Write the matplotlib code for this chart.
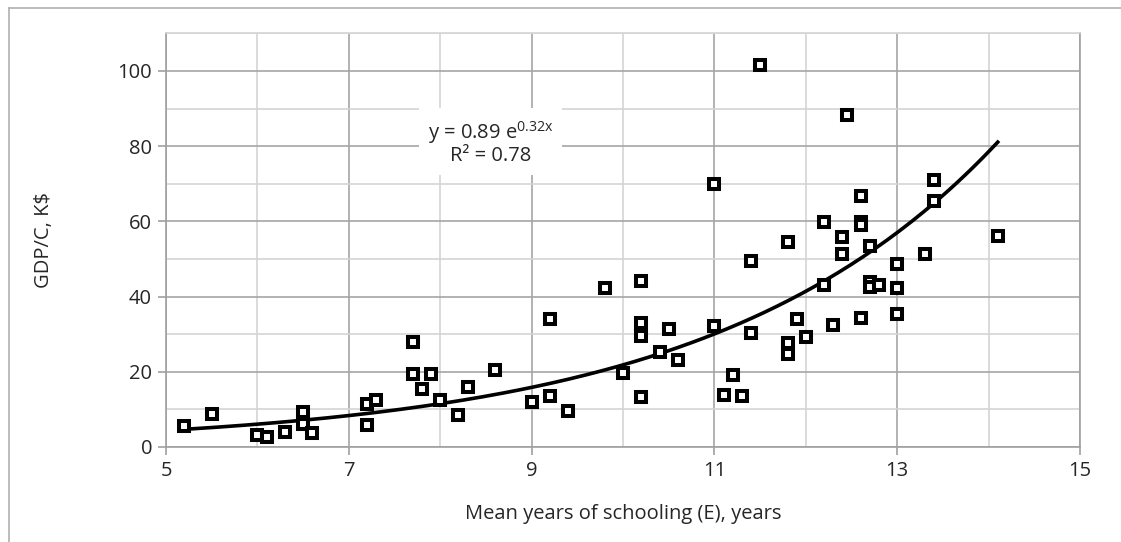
import numpy as np
import matplotlib.pyplot as plt
from matplotlib.ticker import MultipleLocator, FixedLocator
from matplotlib.lines import Line2D

plt.rcParams['font.family'] = ['Open Sans', 'DejaVu Sans']

# mean years of schooling (E) and GDP per capita (K$)
schooling = [5.2, 5.5, 6.0, 6.1, 6.3, 6.5, 6.5, 6.6, 7.2, 7.2, 7.3,
             7.7, 7.7, 7.8, 7.9, 8.0, 8.2, 8.3, 8.6, 9.0, 9.2, 9.2, 9.4,
             9.8, 10.0, 10.2, 10.2, 10.2, 10.2, 10.4, 10.5, 10.6,
             11.0, 11.0, 11.1, 11.2, 11.3, 11.4, 11.4, 11.5,
             11.8, 11.8, 11.8, 11.9, 12.0, 12.2, 12.2, 12.3, 12.4, 12.4, 12.45,
             12.6, 12.6, 12.6, 12.6, 12.7, 12.7, 12.7, 12.8,
             13.0, 13.0, 13.0, 13.3, 13.4, 13.4, 14.1]
gdp = [5.6, 8.8, 3.2, 2.7, 4.0, 9.4, 6.2, 3.7, 5.9, 11.5, 12.5,
       27.8, 19.3, 15.4, 19.4, 12.5, 8.6, 16.0, 20.5, 12.0, 34.0, 13.6, 9.5,
       42.3, 19.7, 44.2, 33.0, 29.6, 13.3, 25.3, 31.5, 23.1,
       70.0, 32.3, 13.7, 19.1, 13.6, 49.4, 30.2, 101.5,
       54.6, 27.7, 24.7, 34.0, 29.3, 59.8, 43.0, 32.4, 55.8, 51.4, 88.3,
       66.8, 59.9, 59.0, 34.4, 53.4, 44.0, 42.5, 43.2,
       48.7, 42.3, 35.4, 51.3, 71.0, 65.4, 56.2]

x_ticks = [5, 7, 9, 11, 13, 15]

# exponential trend line shown on the chart
trend_a = 0.89
trend_b = 0.32
trend_label = "y = 0.89 e$^{\\mathregular{0.32x}}$\nR² = 0.78"

W, H = 1121, 542
fig = plt.figure(figsize=(W / 100, H / 100), dpi=100)
ax = fig.add_axes([166 / W, (H - 447) / H, 914 / W, (447 - 33.4) / H])

# outer chart border (clipped at right/bottom in the reference)
fig.add_artist(Line2D([9 / W, 9 / W], [0, 1 - 8 / H], transform=fig.transFigure,
                      color='#b0b0b0', lw=1.2))
fig.add_artist(Line2D([9 / W, 1], [1 - 8 / H, 1 - 8 / H], transform=fig.transFigure,
                      color='#b0b0b0', lw=1.2))

ax.set_xlim(5, 15)
ax.set_ylim(0, 110)
ax.xaxis.set_major_locator(FixedLocator(x_ticks))
ax.xaxis.set_minor_locator(MultipleLocator(1))
ax.yaxis.set_major_locator(MultipleLocator(20))
ax.yaxis.set_minor_locator(MultipleLocator(10))
ax.grid(which='major', color='#a6a6a6', lw=1.2)
ax.grid(which='minor', color='#d4d4d4', lw=1.2)
ax.set_axisbelow(True)

for s in ['left', 'bottom', 'right']:
    ax.spines[s].set_color('#a0a0a0')
    ax.spines[s].set_linewidth(1.2)
ax.spines['top'].set_color('#d4d4d4')
ax.spines['top'].set_linewidth(1.2)

ax.tick_params(which='major', length=6, width=1.2, color='#a0a0a0',
               labelsize=14.5, labelcolor='#262626', pad=4)
ax.tick_params(which='minor', length=0)

xt = np.linspace(min(schooling), max(schooling), 200)
ax.plot(xt, trend_a * np.exp(trend_b * xt), color='black', lw=2.6, zorder=3)

ax.plot(schooling, gdp, linestyle='none', marker='s', ms=6.6, mew=2.9,
        mfc='white', mec='black', zorder=4)

ax.text(8.55, 81, trend_label, ha='center', va='center', fontsize=14.5,
        color='#262626', linespacing=1.05,
        bbox=dict(facecolor='white', edgecolor='none', pad=6), zorder=2)

ax.set_xlabel('Mean years of schooling (E), years', fontsize=14.5,
              color='#262626', labelpad=17)
ax.set_ylabel('GDP/C, K$', fontsize=14.5, color='#262626', labelpad=46)

fig.savefig('out.png', dpi=100)
